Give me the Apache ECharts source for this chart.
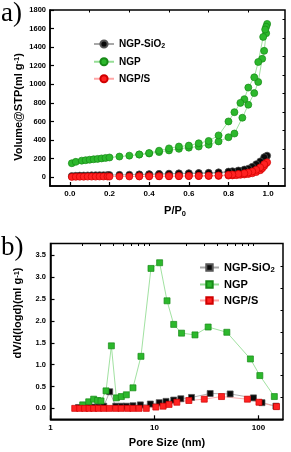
<!DOCTYPE html>
<html><head><meta charset="utf-8">
<script src="https://cdn.jsdelivr.net/npm/echarts@6/dist/echarts.min.js"></script>
<style>html,body{margin:0;padding:0;background:#fff}#c{width:291px;height:452px}</style>
</head><body><div id="c"></div>
<script>
// ---------- (a) N2 isotherm data ----------
const sio2AdsP = [0.01,0.03,0.05,0.07,0.09,0.11,0.13,0.15,0.17,0.19,0.2,0.25,0.3,0.35,0.4,0.45,0.5,0.55,0.6,0.65,0.7,0.75,0.8,0.82,0.84,0.86,0.88,0.9,0.92,0.94,0.96,0.97,0.98,0.99];
const sio2AdsV = [12,15,17,18,19,20,21,22,22,23,23,25,27,29,31,33,35,37,39,41,43,46,52,56,60,65,72,80,95,115,145,170,200,225];
const sio2DesP = [0.995,0.98,0.96,0.94,0.92,0.9,0.88,0.85,0.82,0.8,0.75,0.7,0.65,0.6,0.55,0.5,0.45,0.4,0.35];
const sio2DesV = [232,215,170,140,112,92,82,72,64,60,52,47,45,43,41,38,35,32,29];

const ngpAdsP = [0.01,0.03,0.06,0.08,0.1,0.12,0.14,0.16,0.18,0.2,0.25,0.3,0.35,0.4,0.45,0.5,0.55,0.6,0.65,0.7,0.75,0.8,0.83,0.87,0.9,0.93,0.95,0.97,0.98,0.99];
const ngpAdsV = [150,165,178,183,188,193,197,202,207,212,222,232,243,255,270,288,305,318,330,350,385,430,470,640,780,905,1025,1275,1360,1550];
const ngpDesP = [0.995,0.99,0.985,0.975,0.95,0.93,0.9,0.88,0.86,0.83,0.8,0.75,0.7,0.65,0.6,0.55,0.5,0.45,0.4,0.35];
const ngpDesV = [1650,1620,1590,1510,1240,1075,965,840,800,700,600,450,390,365,340,330,310,285,260,245];

const ngpsAdsP = sio2AdsP;
const ngpsAdsV = [3,4,5,5,6,6,6,7,7,7,7,8,8,9,9,10,10,11,12,12,13,14,17,19,22,25,29,34,42,55,75,95,120,150];
const ngpsDesP = sio2DesP;
const ngpsDesV = [160,140,105,80,62,50,42,34,28,25,19,16,14,13,12,11,10,10,9];

const isoXTicks = [0,0.2,0.4,0.6,0.8,1.0];
const isoXMinor = [0.1,0.3,0.5,0.7,0.9];
const isoYTicks = [0,200,400,600,800,1000,1200,1400,1600,1800];
const isoYMinor = [100,300,500,700,900,1100,1300,1500,1700];

// ---------- (b) pore size distribution data ----------
const sio2PoreD = [1.86,2.09,2.35,2.6,2.89,3.25,3.71,4.24,4.8,5.36,6.2,7.31,9.12,11.1,12.9,15.3,17.9,22.7,34.3,53.4,89.4,108,147];
const sio2PoreV = [0.02,0.02,0.03,0.03,0.03,0.05,0.38,0.05,0.05,0.05,0.06,0.08,0.10,0.13,0.16,0.19,0.22,0.25,0.34,0.33,0.24,0.13,0.05];
const ngpPoreD = [2.04,2.33,2.6,2.84,3.06,3.42,3.85,4.3,4.8,5.36,6.21,7.41,9.25,11.2,13.2,15.3,18.2,24.5,32.8,49.6,83.6,103,142];
const ngpPoreV = [0.08,0.15,0.21,0.18,0.17,0.40,1.43,0.24,0.27,0.31,0.47,1.19,3.20,3.33,2.46,1.92,1.72,1.68,1.86,1.74,1.13,0.75,0.27];
const ngpsPoreD = [1.71,1.91,2.13,2.35,2.6,2.89,3.25,3.68,4.24,4.78,5.52,6.2,7.1,8.34,10.3,12.1,13.8,16.4,21.4,30.1,44.1,78.2,101,149];
const ngpsPoreV = [0,0,0,0,0,0,0,0,0,0,0,0,0,0,0.03,0.05,0.09,0.14,0.18,0.21,0.27,0.21,0.14,0.04];

const poreXTicks = [1,10,100];
const poreXMinor = [2,3,4,5,6,7,8,9,20,30,40,50,60,70,80,90];
const poreYTicks = [0,0.5,1.0,1.5,2.0,2.5,3.0,3.5];
const poreYMinor = [0.25,0.75,1.25,1.75,2.25,2.75,3.25];

const seriesNames = ['NGP-SiO2','NGP','NGP/S'];

// ---------- helpers ----------
const FONT = '"Liberation Sans", Arial, sans-serif';
const pairs = (xs, ys) => xs.map((x, i) => [x, ys[i]]);
const loop = (ap, av, dp, dv) => pairs(ap, av).concat(pairs(dp, dv));

function mainAxis(gridIndex, type, min, max, ticks, fmt, fontSize, margin) {
  return {
    gridIndex, type, min, max, logBase: 10,
    axisLine: {show: true, onZero: false, lineStyle: {color: '#000', width: 1.5}},
    axisTick: {show: true, inside: true, length: 4, customValues: ticks, lineStyle: {color: '#000', width: 1.2}},
    axisLabel: {show: true, customValues: ticks, formatter: fmt, color: '#000', fontWeight: 'bold', fontSize, fontFamily: FONT, margin},
    splitLine: {show: false}, minorTick: {show: false}
  };
}
function minorAxis(gridIndex, type, min, max, ticks) {
  return {
    gridIndex, type, min, max, logBase: 10,
    axisLine: {show: false, onZero: false},
    axisTick: {show: true, inside: true, length: 2.5, customValues: ticks, lineStyle: {color: '#000', width: 1}},
    axisLabel: {show: false}, splitLine: {show: false}
  };
}
const styles = {
  'NGP-SiO2': {fill: '#0a0a0a', border: '#555', line: '#a8a8a8'},
  'NGP': {fill: '#2cb82c', border: '#178a17', line: '#96de96'},
  'NGP/S': {fill: '#ff2222', border: '#d00000', line: '#ffa6a6'}
};
function ser(prefix, name, data, symbol, size, xi, yi) {
  const s = styles[name];
  return {
    name: prefix + ':' + name, type: 'line', data, xAxisIndex: xi, yAxisIndex: yi,
    symbol, symbolSize: size, showAllSymbol: true, clip: false,
    lineStyle: {color: s.line, width: 0.9},
    itemStyle: {color: s.fill, borderColor: s.border, borderWidth: 0.7},
    emphasis: {disabled: true}, animation: false
  };
}
const legendFmt = n => {
  const t = n.split(':')[1];
  return t === 'NGP-SiO2' ? 'NGP-SiO{sub|2}' : t;
};
function legend(prefix, left, top, fs, gap, iw, ih) {
  return {
    data: seriesNames.map(n => prefix + ':' + n), orient: 'vertical', left, top,
    itemWidth: iw, itemHeight: ih, itemGap: gap, selectedMode: false, padding: 0,
    formatter: legendFmt,
    textStyle: {fontSize: fs, fontWeight: 'bold', fontFamily: FONT, color: '#000',
      rich: {sub: {fontSize: fs * 0.7, fontWeight: 'bold', fontFamily: FONT, color: '#000', verticalAlign: 'bottom', padding: [fs * 0.45, 0, 0, 0]}}}
  };
}
const titleStyle = (text, extra) => Object.assign({
  text, fill: '#000', fontSize: 11, fontWeight: 'bold', fontFamily: FONT,
  align: 'center', verticalAlign: 'middle',
  rich: {
    sup: {fontSize: 7.5, fontWeight: 'bold', fontFamily: FONT, fill: '#000', verticalAlign: 'top'},
    sub: {fontSize: 7.5, fontWeight: 'bold', fontFamily: FONT, fill: '#000', verticalAlign: 'bottom', padding: [6, 0, 0, 0]}
  }
}, extra || {});

const chart = echarts.init(document.getElementById('c'), null, {renderer: 'canvas'});
chart.setOption({
  animation: false,
  backgroundColor: '#fff',
  grid: [
    {left: 50, top: 10, right: 6, bottom: 266, show: true, borderColor: '#000', borderWidth: 1.5, outerBoundsMode: 'none', containLabel: false},
    {left: 50.5, top: 243.5, right: 8, bottom: 32.7, show: true, borderColor: '#000', borderWidth: 1.5, outerBoundsMode: 'none', containLabel: false}
  ],
  xAxis: [
    mainAxis(0, 'value', -0.1, 1.085, isoXTicks, v => v.toFixed(1), 8, 4),
    minorAxis(0, 'value', -0.1, 1.085, isoXMinor),
    mainAxis(1, 'log', 1, 172, poreXTicks, v => String(Math.round(v)), 8, 4),
    minorAxis(1, 'log', 1, 172, poreXMinor)
  ],
  yAxis: [
    mainAxis(0, 'value', -95, 1800, isoYTicks, v => String(v), 7.5, 4),
    minorAxis(0, 'value', -95, 1800, isoYMinor),
    mainAxis(1, 'value', -0.25, 3.77, poreYTicks, v => v.toFixed(1), 7.5, 4.5),
    minorAxis(1, 'value', -0.25, 3.77, poreYMinor)
  ],
  legend: [
    legend('a', 93, 39, 10, 7, 20, 9),
    legend('b', 199, 262, 11, 5, 19, 8)
  ],
  series: [
    ser('a', 'NGP-SiO2', loop(sio2AdsP, sio2AdsV, sio2DesP, sio2DesV), 'circle', 7, 0, 0),
    ser('a', 'NGP', loop(ngpAdsP, ngpAdsV, ngpDesP, ngpDesV), 'circle', 7, 0, 0),
    ser('a', 'NGP/S', loop(ngpsAdsP, ngpsAdsV, ngpsDesP, ngpsDesV), 'circle', 7, 0, 0),
    ser('b', 'NGP-SiO2', pairs(sio2PoreD, sio2PoreV), 'rect', 6, 2, 2),
    ser('b', 'NGP', pairs(ngpPoreD, ngpPoreV), 'rect', 6, 2, 2),
    ser('b', 'NGP/S', pairs(ngpsPoreD, ngpsPoreV), 'rect', 6, 2, 2)
  ],
  graphic: [
    {type: 'text', x: 1, y: 0, style: {text: 'a)', fill: '#000', fontSize: 27, fontFamily: '"Liberation Serif", serif'}},
    {type: 'text', x: 1, y: 234, style: {text: 'b)', fill: '#000', fontSize: 27, fontFamily: '"Liberation Serif", serif'}},
    {type: 'text', x: 18.5, y: 107, rotation: Math.PI / 2, style: titleStyle('Volume@STP(ml g{sup|-1})')},
    {type: 'text', x: 175, y: 211, style: titleStyle('P/P{sub|0}')},
    {type: 'text', x: 18, y: 313, rotation: Math.PI / 2, style: titleStyle('dV/d(logd)(ml g{sup|-1})')},
    {type: 'text', x: 167, y: 443, style: titleStyle('Pore Size (nm)')}
  ]
});
</script></body></html>
